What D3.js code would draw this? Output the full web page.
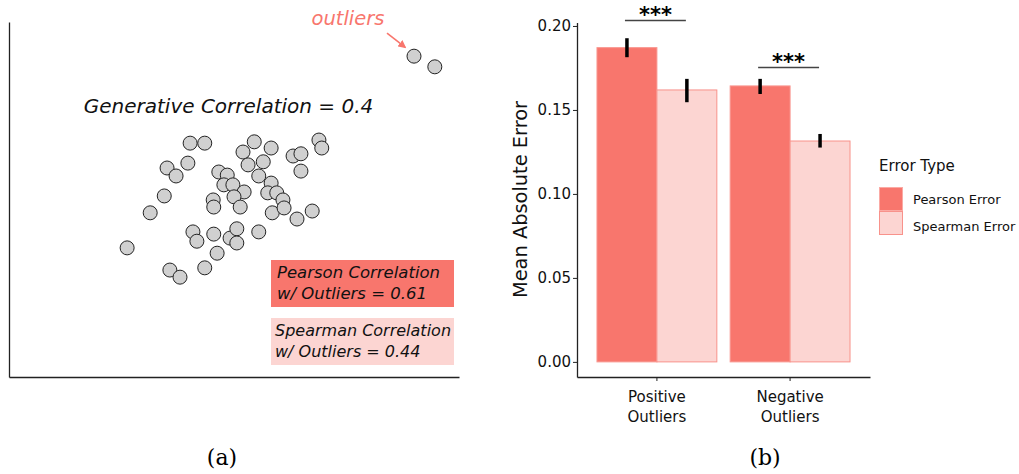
<!DOCTYPE html>
<html>
<head>
<meta charset="utf-8">
<script src="https://cdn.jsdelivr.net/npm/d3@7"></script>
<style>
    body { margin: 0; background: white; }
    svg { display: block; font-family: 'DejaVu Sans', sans-serif; }
</style>
</head>
<body>
<svg id="figSvg" width="1019" height="474"></svg>
<script>
//scatter points of panel (a), generated with correlation 0.4
const scatterX = [0.22, 0.48, 1.36, 1.16, 1.66, 2.51, 2.56, 2.05, 2.19, 2.19,
    0.18, -0.19, -0.03, 0.73, 0.88, 1.25, 1.52, 1.44, 0.82, 0.98,
    1.66, 1.18, 1.00, 1.60, 1.76, 1.87, 0.63, 0.64, 1.11, -0.24,
    -0.49, 1.68, 1.89, 2.12, 2.39, 0.27, 0.34, 0.64, 0.93, 1.05,
    1.05, 1.44, 0.70, -0.90, -0.14, 0.04, 0.48];
const scatterY = [2.27, 2.27, 2.30, 2.07, 2.16, 2.34, 2.16, 1.98, 2.03, 1.64,
    1.82, 1.71, 1.53, 1.62, 1.55, 1.78, 1.85, 1.53, 1.33, 1.33,
    1.37, 1.17, 1.06, 1.15, 1.15, 0.99, 0.99, 0.83, 0.83, 1.08,
    0.70, 0.70, 0.81, 0.56, 0.74, 0.27, 0.06, 0.22, 0.13, 0.34,
    0.02, 0.27, -0.21, -0.09, -0.59, -0.75, -0.54];
const outlierX = [4.20, 4.57];
const outlierY = [4.23, 3.99];

//correlation boxes
const boxLines = [
    ['Pearson Correlation', 'w/ Outliers = 0.61'],
    ['Spearman Correlation', 'w/ Outliers = 0.44']
];

//bar chart of panel (b)
const categories = ['Positive Outliers', 'Negative Outliers'];
const errorTypes = ['Pearson Error', 'Spearman Error'];
const pearsonMAE = [0.1871, 0.1643];
const spearmanMAE = [0.1619, 0.1315];
const pearsonLow = [0.1814, 0.1595];
const pearsonHigh = [0.1927, 0.1685];
const spearmanLow = [0.1546, 0.1276];
const spearmanHigh = [0.1685, 0.1357];
const sigHeights = [0.2032, 0.1752];
const yTicks = [0, 0.05, 0.10, 0.15, 0.20];

const pearsonColor = '#f8766d';
const spearmanFill = '#fcd5d2';
const spearmanStroke = '#f8928b';

const svg = d3.select('#figSvg');

//panel (a)
const xScatter = d3.scaleLinear().domain([-3, 5]).range([9, 459]);
const yScatter = d3.scaleLinear().domain([-3, 5]).range([377, 22]);

//axis lines without ticks
svg.append('g')
    .attr('transform', `translate(${xScatter.range()[0]}, 0)`)
    .call(d3.axisLeft(yScatter).tickValues([]).tickSizeOuter(0))
    .call(g => g.select('.domain').attr('stroke', '#222').attr('stroke-width', 1.3));
svg.append('g')
    .attr('transform', `translate(0, ${yScatter.range()[0]})`)
    .call(d3.axisBottom(xScatter).tickValues([]).tickSizeOuter(0))
    .call(g => g.select('.domain').attr('stroke', '#222').attr('stroke-width', 1.3));

svg.append('text')
    .attr('x', 228.5)
    .attr('y', 113)
    .attr('text-anchor', 'middle')
    .attr('font-size', '20px')
    .attr('font-style', 'italic')
    .attr('fill', '#111')
    .text('Generative Correlation = 0.4');

const points = scatterX.map((x, i) => ({x: x, y: scatterY[i]}))
    .concat(outlierX.map((x, i) => ({x: x, y: outlierY[i]})));

svg.selectAll('.dot')
    .data(points)
    .enter()
    .append('circle')
        .attr('class', 'dot')
        .attr('cx', d => xScatter(d.x))
        .attr('cy', d => yScatter(d.y))
        .attr('r', 7)
        .attr('fill', '#d0d0d0')
        .attr('stroke', '#222')
        .attr('stroke-width', 1);

//outliers label and arrow, placed relative to the first outlier
const ox = xScatter(outlierX[0]);
const oy = yScatter(outlierY[0]);

svg.append('defs').append('marker')
    .attr('id', 'arrowHead')
    .attr('viewBox', '0 0 10 10')
    .attr('refX', 8)
    .attr('refY', 5)
    .attr('markerWidth', 5)
    .attr('markerHeight', 5)
    .attr('orient', 'auto')
    .append('path')
        .attr('d', 'M0,0L10,5L0,10z')
        .attr('fill', pearsonColor);

svg.append('line')
    .attr('x1', ox - 27)
    .attr('y1', oy - 23)
    .attr('x2', ox - 9)
    .attr('y2', oy - 9)
    .attr('stroke', pearsonColor)
    .attr('stroke-width', 1.6)
    .attr('marker-end', 'url(#arrowHead)');

svg.append('text')
    .attr('x', ox - 66)
    .attr('y', oy - 31)
    .attr('text-anchor', 'middle')
    .attr('font-size', '19.5px')
    .attr('font-style', 'italic')
    .attr('fill', pearsonColor)
    .text('outliers');

//correlation boxes
const boxFills = [pearsonColor, spearmanFill];
const boxTops = [260, 318];
boxLines.forEach((lines, i) => {
    svg.append('rect')
        .attr('x', 271)
        .attr('y', boxTops[i])
        .attr('width', 183)
        .attr('height', 47)
        .attr('fill', boxFills[i]);
    lines.forEach((t, j) => {
        svg.append('text')
            .attr('x', i == 0 ? 277 : 275)
            .attr('y', boxTops[i] + 18 + j * 21)
            .attr('font-size', i == 0 ? '16.5px' : '16px')
            .attr('font-style', 'italic')
            .attr('fill', '#111')
            .text(t);
    });
});

//panel (b)
const x0 = d3.scaleBand()
    .domain(categories)
    .range([577, 870])
    .paddingInner(0.1)
    .paddingOuter(0.15);

const x1 = d3.scaleBand()
    .domain(errorTypes)
    .range([0, x0.bandwidth()]);

const yScale = d3.scaleLinear()
    .domain([-0.009, 0.202])
    .range([377, 22.6]);

const barData = [];
categories.forEach((c, i) => {
    barData.push({cat: c, type: errorTypes[0], value: pearsonMAE[i], low: pearsonLow[i], high: pearsonHigh[i]});
    barData.push({cat: c, type: errorTypes[1], value: spearmanMAE[i], low: spearmanLow[i], high: spearmanHigh[i]});
});

svg.selectAll('.bar')
    .data(barData)
    .enter()
    .append('rect')
        .attr('class', 'bar')
        .attr('x', d => x0(d.cat) + x1(d.type))
        .attr('y', d => yScale(d.value))
        .attr('width', x1.bandwidth())
        .attr('height', d => yScale(0) - yScale(d.value))
        .attr('fill', d => d.type == errorTypes[0] ? pearsonColor : spearmanFill)
        .attr('stroke', d => d.type == errorTypes[0] ? '#f99790' : spearmanStroke)
        .attr('stroke-width', 1);

//error bars
svg.selectAll('.errBar')
    .data(barData)
    .enter()
    .append('line')
        .attr('class', 'errBar')
        .attr('x1', d => x0(d.cat) + x1(d.type) + x1.bandwidth() / 2)
        .attr('x2', d => x0(d.cat) + x1(d.type) + x1.bandwidth() / 2)
        .attr('y1', d => yScale(d.low))
        .attr('y2', d => yScale(d.high))
        .attr('stroke', 'black')
        .attr('stroke-width', 3.5);

//significance brackets
categories.forEach((c, i) => {
    const xa = x0(c) + x1(errorTypes[0]) + x1.bandwidth() / 2 - 2;
    const xb = x0(c) + x1(errorTypes[1]) + x1.bandwidth() / 2 - 1;
    svg.append('line')
        .attr('x1', xa)
        .attr('x2', xb)
        .attr('y1', yScale(sigHeights[i]))
        .attr('y2', yScale(sigHeights[i]))
        .attr('stroke', '#444')
        .attr('stroke-width', 1.5);
    svg.append('text')
        .attr('x', (xa + xb) / 2)
        .attr('y', yScale(sigHeights[i]) + 1)
        .attr('text-anchor', 'middle')
        .attr('font-size', '21px')
        .attr('font-weight', 'bold')
        .text('***');
});

//axes
svg.append('g')
    .attr('transform', 'translate(577, 0)')
    .call(d3.axisLeft(yScale).tickValues(yTicks).tickFormat(d3.format('.2f')).tickSize(4).tickPadding(2).tickSizeOuter(0))
    .call(g => g.select('.domain').attr('stroke', '#222').attr('stroke-width', 1.3))
    .call(g => g.selectAll('.tick line').attr('stroke', '#222'))
    .call(g => g.selectAll('.tick text').attr('font-size', '15px').attr('font-family', 'DejaVu Sans').attr('fill', '#111'));

svg.append('g')
    .attr('transform', 'translate(0, 377)')
    .call(d3.axisBottom(x0).tickSize(4).tickSizeOuter(0))
    .call(g => g.select('.domain').attr('stroke', '#222').attr('stroke-width', 1.3))
    .call(g => g.selectAll('.tick line').attr('stroke', '#222'))
    .call(g => g.selectAll('.tick text').remove())
    .call(g => g.selectAll('.tick').each(function(d) {
        const words = d.split(' ');
        const t = d3.select(this).append('text')
            .attr('fill', '#111')
            .attr('font-size', '15px')
            .attr('font-family', 'DejaVu Sans')
            .attr('text-anchor', 'middle');
        words.forEach((w, j) => {
            t.append('tspan').attr('x', 0).attr('y', 25 + j * 20).text(w);
        });
    }));

//y axis title
svg.append('text')
    .attr('transform', 'translate(527, 199.5) rotate(-90)')
    .attr('text-anchor', 'middle')
    .attr('font-size', '19.4px')
    .attr('fill', '#111')
    .text('Mean Absolute Error');

//legend
svg.append('text')
    .attr('x', 879)
    .attr('y', 171)
    .attr('font-size', '15px')
    .attr('fill', '#111')
    .text('Error Type');

errorTypes.forEach((t, i) => {
    svg.append('rect')
        .attr('x', 879.5)
        .attr('y', 187.5 + i * 24)
        .attr('width', 23)
        .attr('height', 23)
        .attr('fill', i == 0 ? pearsonColor : spearmanFill)
        .attr('stroke', i == 0 ? '#fbaaa4' : spearmanStroke)
        .attr('stroke-width', 1);
    svg.append('text')
        .attr('x', 913)
        .attr('y', 203.5 + i * 27.5)
        .attr('font-size', '13px')
        .attr('fill', '#111')
        .text(t);
});

//panel captions
svg.append('text')
    .attr('x', 222)
    .attr('y', 465)
    .attr('text-anchor', 'middle')
    .attr('font-family', 'DejaVu Serif')
    .attr('font-size', '22px')
    .text('(a)');
svg.append('text')
    .attr('x', 765)
    .attr('y', 465)
    .attr('text-anchor', 'middle')
    .attr('font-family', 'DejaVu Serif')
    .attr('font-size', '22px')
    .text('(b)');
</script>
</body>
</html>
